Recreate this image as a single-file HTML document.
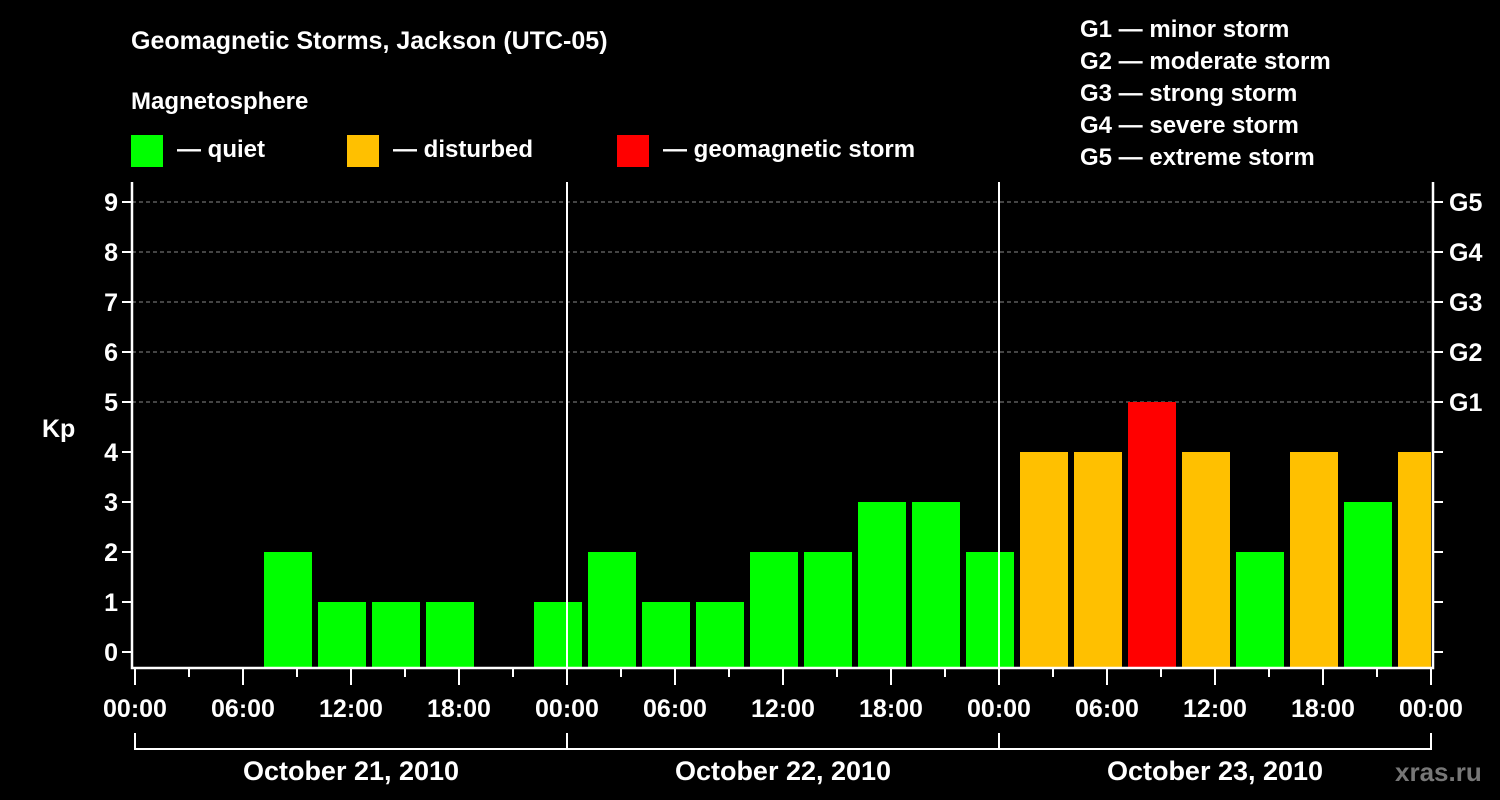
<!DOCTYPE html>
<html><head><meta charset="utf-8"><style>
html,body{margin:0;padding:0;background:#000;}
svg{display:block;font-family:"Liberation Sans",sans-serif;font-weight:bold;}
</style></head><body>
<svg id="chart" width="1500" height="800" viewBox="0 0 1500 800" xmlns="http://www.w3.org/2000/svg">
<rect width="1500" height="800" fill="#000"/>
<text x="131" y="49" fill="#fff" font-size="25">Geomagnetic Storms, Jackson (UTC-05)</text>
<text x="131" y="109" fill="#fff" font-size="24">Magnetosphere</text>
<g><rect x="131" y="135" width="32" height="32" fill="#00ff00"/><text x="177" y="157" fill="#fff" font-size="24">— quiet</text></g>
<g><rect x="347" y="135" width="32" height="32" fill="#ffc000"/><text x="393" y="157" fill="#fff" font-size="24">— disturbed</text></g>
<g><rect x="617" y="135" width="32" height="32" fill="#ff0000"/><text x="663" y="157" fill="#fff" font-size="24">— geomagnetic storm</text></g>
<g fill="#fff" font-size="24">
<text x="1080" y="37">G1 — minor storm</text>
<text x="1080" y="69">G2 — moderate storm</text>
<text x="1080" y="101">G3 — strong storm</text>
<text x="1080" y="133">G4 — severe storm</text>
<text x="1080" y="165">G5 — extreme storm</text>
</g>
<text x="42" y="437" fill="#fff" font-size="25">Kp</text>
<g id="grid"></g>
<g id="bars"></g>
<g id="axes"></g>
<text x="1395" y="781" fill="#777" font-size="26">xras.ru</text>
</svg>
<script>
const startHours=[-2,1,4,7,10,13,16,19,22,25,28,31,34,37,40,43,46,49,52,55,58,61,64,67,70];
const kpValues=[0,0,0,2,1,1,1,0,1,2,1,1,2,2,3,3,2,4,4,5,4,2,4,3,4];
const yTicks=[0,1,2,3,4,5,6,7,8,9];
const gLabels=["G1","G2","G3","G4","G5"];
const xTickLabels=["00:00","06:00","12:00","18:00","00:00","06:00","12:00","18:00","00:00","06:00","12:00","18:00","00:00"];
const dayLabels=["October 21, 2010","October 22, 2010","October 23, 2010"];
const NS="http://www.w3.org/2000/svg";
const X0=135,PXH=18,PL=132,PR=1433,PT=182,PB=668;
function xs(h){return X0+h*PXH;}
function ys(v){return 652-v*50;}
function mk(t,a,p){const e=document.createElementNS(NS,t);for(const k in a)e.setAttribute(k,a[k]);p.appendChild(e);return e;}
const grid=document.getElementById('grid'),bars=document.getElementById('bars'),axes=document.getElementById('axes');
// grid lines 5..9
for(let v=5;v<=9;v++){const l=mk('line',{x1:PL,x2:PR,y1:ys(v),y2:ys(v),stroke:'#888','stroke-width':1,'stroke-dasharray':'4,3'},grid);

}
// bars
startHours.forEach((h,i)=>{const v=kpValues[i];if(v<=0)return;
let x1=Math.max(xs(h)+3,PL+1),x2=Math.min(xs(h+3)-3,PR-2);
const c=v>=5?'#ff0000':(v>=4?'#ffc000':'#00ff00');
const r=mk('rect',{x:x1,y:ys(v),width:x2-x1,height:PB-ys(v),fill:c},bars);

});
// day separators
[24,48].forEach(h=>{const l=mk('line',{x1:xs(h),x2:xs(h),y1:PT,y2:PB,stroke:'#fff','stroke-width':2},axes);

});
// axes lines
const ax=mk('path',{d:`M${PL} ${PT}V${PB}H${PR}V${PT}`,fill:'none',stroke:'#fff','stroke-width':2.5},axes);


// y ticks
yTicks.forEach(v=>{mk('line',{x1:PL-10,x2:PL,y1:ys(v),y2:ys(v),stroke:'#fff','stroke-width':2},axes);
mk('line',{x1:PR,x2:PR+10,y1:ys(v),y2:ys(v),stroke:'#fff','stroke-width':2},axes);
const t=mk('text',{x:PL-14,y:ys(v)+9,fill:'#fff','font-size':25,'text-anchor':'end'},axes);t.textContent=v;

});
gLabels.forEach((g,i)=>{const t=mk('text',{x:PR+16,y:ys(5+i)+9,fill:'#fff','font-size':25},axes);t.textContent=g;

});
// x ticks
for(let h=0;h<=72;h+=3){const maj=h%6===0;mk('line',{x1:xs(h),x2:xs(h),y1:PB,y2:PB+(maj?17:9),stroke:'#fff','stroke-width':2},axes);}
xTickLabels.forEach((s,i)=>{const t=mk('text',{x:xs(i*6),y:717,fill:'#fff','font-size':25,'text-anchor':'middle'},axes);t.textContent=s;

});
// day bracket
mk('path',{d:`M${xs(0)} 733V749H${xs(72)}V733`,fill:'none',stroke:'#fff','stroke-width':2},axes);
[24,48].forEach(h=>mk('line',{x1:xs(h),x2:xs(h),y1:733,y2:749,stroke:'#fff','stroke-width':2},axes));
dayLabels.forEach((s,i)=>{const t=mk('text',{x:xs(i*24+12),y:780,fill:'#fff','font-size':27,'text-anchor':'middle'},axes);t.textContent=s;

});
</script>
</body></html>
